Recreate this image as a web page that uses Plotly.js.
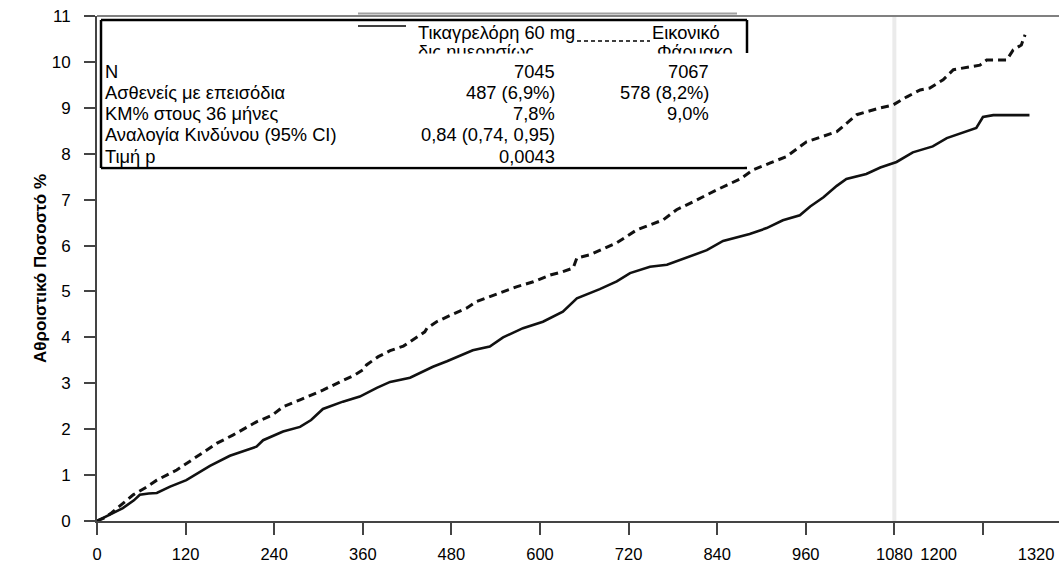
<!DOCTYPE html>
<html>
<head>
<meta charset="utf-8">
<script src="https://cdn.plot.ly/plotly-3.0.1.min.js"></script>
<style>html,body{margin:0;padding:0;background:#fff;}#chart{width:1059px;height:565px;}</style>
</head>
<body>
<div id="chart"></div>
<script>
// Ticagrelor 60 mg (solid) - days and cumulative %
const ticaDays = [0,10,20,35,50,58,70,81,99,121,153,180,216,225,252,275,290,306,333,356,379,397,424,437,455,474,492,509,532,550,577,604,631,650,681,704,722,749,772,803,826,848,884,907,929,952,966,984,1002,1015,1042,1061,1083,1105,1132,1151,1178,1191,1200,1214,1263];
const ticaPct  = [0,0.08,0.16,0.28,0.45,0.57,0.60,0.61,0.75,0.89,1.20,1.42,1.62,1.76,1.95,2.05,2.20,2.44,2.60,2.71,2.90,3.03,3.12,3.22,3.36,3.48,3.60,3.72,3.80,4.00,4.20,4.34,4.56,4.85,5.05,5.22,5.40,5.54,5.58,5.76,5.90,6.10,6.25,6.38,6.55,6.66,6.85,7.05,7.30,7.45,7.56,7.70,7.82,8.03,8.16,8.34,8.50,8.56,8.80,8.84,8.84];

// Placebo (dashed)
const placDays = [0,10,20,35,49,65,81,108,135,162,184,216,237,252,275,306,329,349,360,365,381,397,415,431,444,447,460,480,501,514,534,568,591,614,631,645,650,668,704,731,767,785,812,839,871,889,912,934,961,1002,1029,1061,1078,1097,1115,1128,1146,1160,1196,1205,1232,1241,1252,1257];
const placPct  = [0,0.07,0.18,0.39,0.57,0.72,0.89,1.11,1.40,1.69,1.87,2.16,2.30,2.49,2.64,2.85,3.03,3.18,3.29,3.40,3.58,3.71,3.81,3.98,4.12,4.20,4.34,4.49,4.64,4.78,4.90,5.10,5.21,5.36,5.43,5.51,5.73,5.80,6.06,6.34,6.56,6.78,6.99,7.21,7.45,7.65,7.80,7.94,8.26,8.48,8.85,9.00,9.06,9.24,9.39,9.43,9.61,9.83,9.93,10.04,10.04,10.26,10.37,10.59];

// Axis ticks
const xTickMarks = [0,120,240,360,480,600,720,840,960,1080,1200];
const xLabelPos  = [0,120,240,360,480,600,720,840,960,1080,1140,1272];
const xLabelText = ['0','120','240','360','480','600','720','840','960','1080','1200','1320'];
const yTicks = [0,1,2,3,4,5,6,7,8,9,10,11];

// Inset table
const headerTica = ['Τικαγρελόρη 60 mg', 'δις ημερησίως'];
const headerPlac = ['Εικονικό', 'Φάρμακο'];
const rowLabels = ['N', 'Ασθενείς με επεισόδια', 'KM% στους 36 μήνες', 'Αναλογία Κινδύνου (95% CI)', 'Τιμή p'];
const ticaCol   = ['7045', '487 (6,9%)', '7,8%', '0,84 (0,74, 0,95)', '0,0043'];
const placCol   = ['7067', '578 (8,2%)', '9,0%', '', ''];

const FONT = 'Liberation Sans, Arial, sans-serif';
const L = 97, T = 16, W = 962, H = 505;
const px = x => (x - L) / W;
const py = y => (T + H - y) / H;

const traces = [
  {x: ticaDays, y: ticaPct, type: 'scatter', mode: 'lines', line: {color: '#111', width: 2.6}, hoverinfo: 'skip'},
  {x: placDays, y: placPct, type: 'scatter', mode: 'lines', line: {color: '#111', width: 3, dash: '8px,5px'}, hoverinfo: 'skip'},
  {x: [0], y: [0], xaxis: 'x2', type: 'scatter', mode: 'none', hoverinfo: 'skip'}
];

const shapes = [
  {type: 'line', xref: 'x', yref: 'paper', x0: 1080, x1: 1080, y0: 0, y1: 1, line: {color: '#ebebeb', width: 4}, layer: 'below'},
  {type: 'line', xref: 'paper', yref: 'paper', x0: 0, x1: 1, y0: 1, y1: 1, line: {color: '#808080', width: 2}},
  {type: 'line', xref: 'paper', yref: 'paper', x0: px(358), x1: px(737), y0: py(13.5), y1: py(13.5), line: {color: '#a0a0a0', width: 2}},
  {type: 'rect', xref: 'paper', yref: 'paper', x0: px(101), x1: px(747), y0: py(168), y1: py(20), fillcolor: '#fff', line: {width: 0}, layer: 'above'},
  {type: 'line', xref: 'paper', yref: 'paper', x0: px(101), x1: px(747), y0: py(20), y1: py(20), line: {color: '#000', width: 2.5}},
  {type: 'line', xref: 'paper', yref: 'paper', x0: px(101), x1: px(101), y0: py(20), y1: py(168), line: {color: '#000', width: 2.5}},
  {type: 'line', xref: 'paper', yref: 'paper', x0: px(101), x1: px(747), y0: py(168), y1: py(168), line: {color: '#000', width: 2.5}},
  {type: 'line', xref: 'paper', yref: 'paper', x0: px(747), x1: px(747), y0: py(20), y1: py(53), line: {color: '#000', width: 2.5}},
  {type: 'line', xref: 'paper', yref: 'paper', x0: px(358), x1: px(406), y0: py(26), y1: py(26), line: {color: '#000', width: 1.5}},
  {type: 'line', xref: 'paper', yref: 'paper', x0: px(577), x1: px(650), y0: py(41), y1: py(41), line: {color: '#000', width: 1.5, dash: '4px,3px'}}
];

const tfont = {family: FONT, size: 18.3, color: '#000'};
const annotations = [];
annotations.push({xref: 'paper', yref: 'paper', x: px(416), y: py(32), xanchor: 'left', yanchor: 'middle', text: headerTica[0], showarrow: false, font: tfont});
annotations.push({xref: 'paper', yref: 'paper', x: px(416), y: py(52), xanchor: 'left', yanchor: 'middle', text: headerTica[1], showarrow: false, font: tfont});
annotations.push({xref: 'paper', yref: 'paper', x: px(650), y: py(32), xanchor: 'left', yanchor: 'middle', text: headerPlac[0], showarrow: false, font: tfont});
annotations.push({xref: 'paper', yref: 'paper', x: px(655), y: py(52), xanchor: 'left', yanchor: 'middle', text: headerPlac[1], showarrow: false, font: tfont});
annotations.push({xref: 'paper', yref: 'paper', x: px(103), y: py(53), xanchor: 'left', yanchor: 'top', text: '\u00a0', showarrow: false, width: 640, height: 112, bgcolor: '#fff', borderpad: 0, font: tfont});
rowLabels.forEach((lab, i) => {
  const yy = py(71 + 21.25 * i);
  annotations.push({xref: 'paper', yref: 'paper', x: px(103), y: yy, xanchor: 'left', yanchor: 'middle', text: lab, showarrow: false, font: tfont});
  if (ticaCol[i]) annotations.push({xref: 'paper', yref: 'paper', x: px(557), y: yy, xanchor: 'right', yanchor: 'middle', text: ticaCol[i], showarrow: false, font: tfont});
  if (placCol[i]) annotations.push({xref: 'paper', yref: 'paper', x: px(711), y: yy, xanchor: 'right', yanchor: 'middle', text: placCol[i], showarrow: false, font: tfont});
});

const layout = {
  width: 1059, height: 565,
  margin: {l: L, r: 0, t: T, b: 565 - T - H, pad: 0},
  paper_bgcolor: '#fff', plot_bgcolor: '#fff',
  showlegend: false,
  font: {family: FONT, color: '#000'},
  xaxis: {
    range: [0, 1303], tickmode: 'array', tickvals: xTickMarks, showticklabels: false,
    ticks: 'outside', ticklen: 12, tickwidth: 2, tickcolor: '#444',
    showline: true, linecolor: '#444', linewidth: 2, showgrid: false, zeroline: false, fixedrange: true
  },
  xaxis2: {
    overlaying: 'x', anchor: 'y', side: 'bottom', range: [0, 1303],
    tickmode: 'array', tickvals: xLabelPos, ticktext: xLabelText,
    ticks: 'outside', ticklen: 12, tickcolor: 'rgba(0,0,0,0)', ticklabelstandoff: 6,
    tickfont: {family: FONT, size: 16.5, color: '#000'},
    showline: false, showgrid: false, zeroline: false, fixedrange: true
  },
  yaxis: {
    range: [0, 11], tickmode: 'array', tickvals: yTicks,
    ticks: 'outside', ticklen: 11, tickwidth: 2, tickcolor: '#444', ticklabelstandoff: 10,
    tickfont: {family: FONT, size: 17, color: '#000'},
    showline: true, linecolor: '#444', linewidth: 2, showgrid: false, zeroline: false, fixedrange: true,
    title: {text: '<b>Αθροιστικό Ποσοστό %</b>', font: {family: FONT, size: 17, color: '#000'}, standoff: 1}
  },
  shapes: shapes,
  annotations: annotations
};

Plotly.newPlot('chart', traces, layout, {displayModeBar: false, staticPlot: true});
</script>
</body>
</html>
